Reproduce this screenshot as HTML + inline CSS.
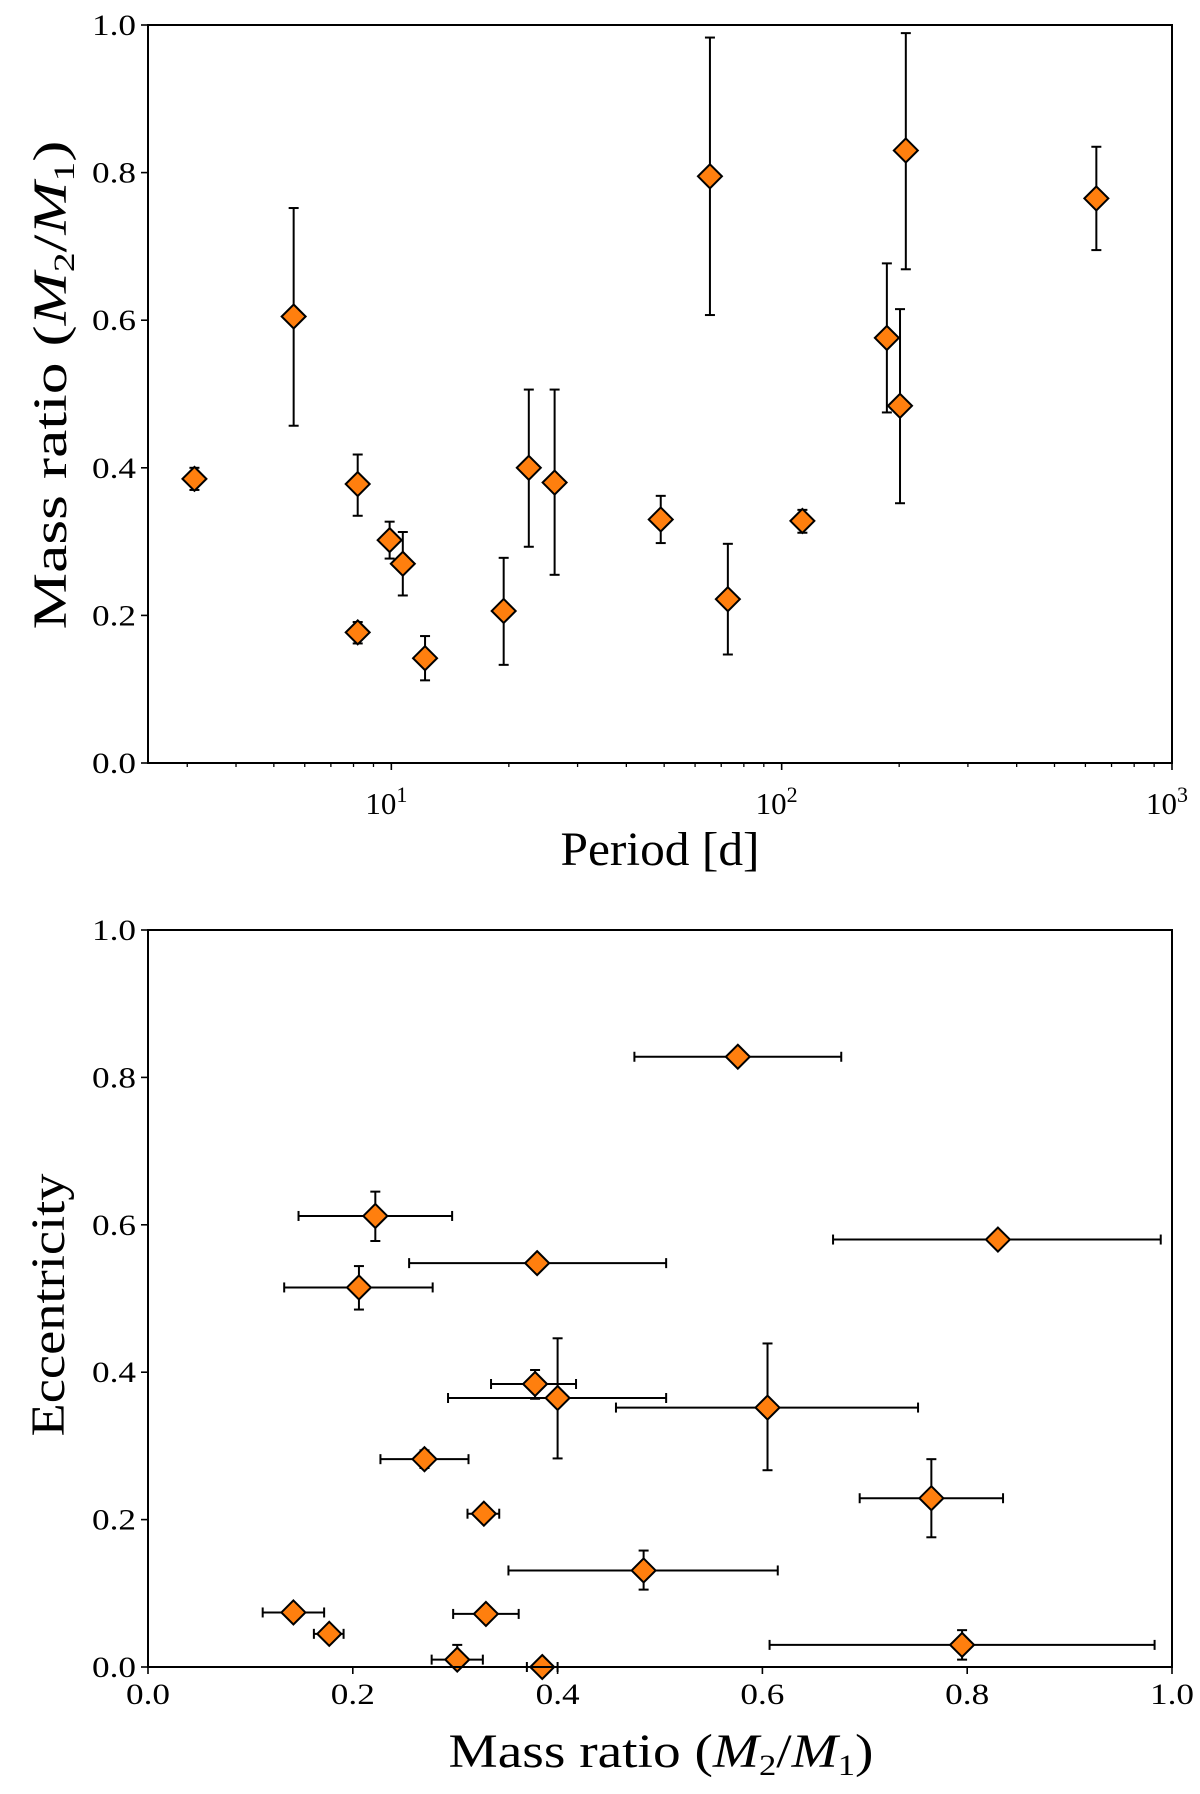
<!DOCTYPE html>
<html><head><meta charset="utf-8"><style>
body{margin:0;background:#fff}
svg{display:block}
text{font-family:"Liberation Serif",serif;fill:#000}
</style></head><body>
<svg id="fig" width="1200" height="1794" viewBox="0 0 1200 1794" xmlns="http://www.w3.org/2000/svg">
<g id="top"></g>
<g id="bot"></g>
</svg>
<script>
// Top panel data
const periods = [3.13,5.62,8.2,8.2,9.9,10.7,12.2,19.4,22.5,26.2,49.0,65.5,72.8,113,186,201,208,640];
const qTop = [0.385,0.605,0.378,0.177,0.302,0.27,0.142,0.206,0.40,0.38,0.33,0.795,0.222,0.328,0.576,0.484,0.83,0.765];
const qTopLo = [0.37,0.457,0.335,0.162,0.277,0.227,0.112,0.133,0.293,0.255,0.298,0.607,0.147,0.312,0.475,0.352,0.669,0.695];
const qTopHi = [0.40,0.752,0.418,0.191,0.327,0.313,0.172,0.278,0.506,0.506,0.362,0.983,0.297,0.343,0.677,0.615,0.989,0.835];
// Bottom panel data
const qBot = [0.576,0.222,0.83,0.38,0.206,0.378,0.40,0.605,0.27,0.765,0.328,0.484,0.142,0.33,0.177,0.795,0.302,0.385];
const qBotLo = [0.475,0.147,0.669,0.255,0.133,0.335,0.293,0.457,0.227,0.695,0.312,0.352,0.112,0.298,0.162,0.607,0.277,0.37];
const qBotHi = [0.677,0.297,0.989,0.506,0.278,0.418,0.506,0.752,0.313,0.835,0.343,0.615,0.172,0.362,0.191,0.983,0.327,0.40];
const ecc = [0.828,0.612,0.58,0.548,0.515,0.384,0.365,0.352,0.282,0.229,0.208,0.131,0.074,0.072,0.045,0.03,0.01,0.0];
const eccLo = [0.828,0.578,0.58,0.548,0.485,0.364,0.283,0.267,0.27,0.176,0.208,0.105,0.074,0.072,0.045,0.01,0.0,0.0];
const eccHi = [0.828,0.645,0.58,0.548,0.544,0.403,0.446,0.439,0.294,0.282,0.208,0.158,0.074,0.072,0.045,0.05,0.03,0.0];
const linTicks = ["0.0","0.2","0.4","0.6","0.8","1.0"];
const logTickExp = ["1","2","3"];

const NS="http://www.w3.org/2000/svg";
function mk(parent,tag,attrs){const e=document.createElementNS(NS,tag);for(const k in attrs)e.setAttribute(k,attrs[k]);parent.appendChild(e);return e;}
const L=148,R=1172;
const logMin=Math.log10(2.38), logMax=3;
const xLog=v=>L+(Math.log10(v)-logMin)/(logMax-logMin)*(R-L);
const xLin=v=>L+v*(R-L);
function yMaker(top,bot){return v=>bot-v*(bot-top);}
const MQ='Mass ratio (<tspan font-style="italic">M</tspan><tspan font-size="30" dy="8">2</tspan><tspan dy="-8">/</tspan><tspan font-style="italic">M</tspan><tspan font-size="30" dy="8">1</tspan><tspan dy="-8">)</tspan>';

function errV(g,x,y1,y2){
  const l=mk(g,'line',{x1:x,x2:x,y1:y1,y2:y2,stroke:'#000','stroke-width':2});
  
  
  for(const y of [y1,y2]){const c=mk(g,'line',{x1:x-5,x2:x+5,y1:y,y2:y,stroke:'#000','stroke-width':2});
    
    }
}
function errH(g,x1,x2,y){
  const l=mk(g,'line',{x1:x1,x2:x2,y1:y,y2:y,stroke:'#000','stroke-width':2});
  
  
  for(const x of [x1,x2]){const c=mk(g,'line',{x1:x,x2:x,y1:y-5,y2:y+5,stroke:'#000','stroke-width':2});
    
    }
}
function diamond(g,x,y){
  const p=mk(g,'polygon',{points:`${x},${y-12} ${x+12},${y} ${x},${y+12} ${x-12},${y}`,fill:'#ff7f0e',stroke:'#000','stroke-width':2});
  
  
}
function frame(g,top,bot){
  const r=mk(g,'rect',{x:L,y:top,width:R-L,height:bot-top,fill:'none',stroke:'#000','stroke-width':2});
  
  
}
function yTicks(g,y){
  linTicks.forEach(t=>{const yy=y(parseFloat(t));
    mk(g,'line',{x1:L-7,x2:L,y1:yy,y2:yy,stroke:'#000','stroke-width':1.6});
    const tx=mk(g,'text',{x:L-12,y:yy+10,'font-size':30,'text-anchor':'end',textLength:44,lengthAdjust:'spacingAndGlyphs'});tx.textContent=t;
    
    });
}

// TOP
(function(){
  const g=document.getElementById('top');const top=25,bot=763;const y=yMaker(top,bot);
  yTicks(g,y);
  for(let d=0;d<3;d++)for(let m=2;m<=9;m++){const v=m*Math.pow(10,d);if(v<2.38)continue;const xx=xLog(v);
    mk(g,'line',{x1:xx,x2:xx,y1:bot,y2:bot+4,stroke:'#000','stroke-width':1.3});}
  logTickExp.forEach(e=>{const xx=xLog(Math.pow(10,+e));
    mk(g,'line',{x1:xx,x2:xx,y1:bot,y2:bot+7,stroke:'#000','stroke-width':1.6});
    const t=mk(g,'text',{x:xx-5,y:bot+51,'font-size':31,'text-anchor':'middle'});
    t.innerHTML='10<tspan dy="-12" font-size="22">'+e+'</tspan>';
    
    });
  periods.forEach((p,i)=>errV(g,xLog(p),y(qTopLo[i]),y(qTopHi[i])));
  periods.forEach((p,i)=>diamond(g,xLog(p),y(qTop[i])));
  frame(g,top,bot);
  const xl=mk(g,'text',{x:660,y:865,'font-size':48,'text-anchor':'middle',textLength:199,lengthAdjust:'spacingAndGlyphs'});xl.textContent='Period [d]';
  
  
  const yl=mk(g,'text',{x:0,y:0,'font-size':48,'text-anchor':'middle',textLength:489,lengthAdjust:'spacingAndGlyphs',transform:'translate(66,385) rotate(-90)'});
  yl.innerHTML=MQ;
  
  
})();

// BOTTOM
(function(){
  const g=document.getElementById('bot');const top=930,bot=1667;const y=yMaker(top,bot);
  yTicks(g,y);
  linTicks.forEach(t=>{const xx=xLin(parseFloat(t));
    mk(g,'line',{x1:xx,x2:xx,y1:bot,y2:bot+7,stroke:'#000','stroke-width':1.6});
    const tx=mk(g,'text',{x:xx,y:bot+37,'font-size':30,'text-anchor':'middle',textLength:44,lengthAdjust:'spacingAndGlyphs'});tx.textContent=t;
    
    });
  qBot.forEach((q,i)=>{
    errH(g,xLin(qBotLo[i]),xLin(qBotHi[i]),y(ecc[i]));
    if(eccHi[i]>eccLo[i]) errV(g,xLin(q),y(eccLo[i]),y(eccHi[i]));
  });
  qBot.forEach((q,i)=>diamond(g,xLin(q),y(ecc[i])));
  frame(g,top,bot);
  const xl=mk(g,'text',{x:661,y:1767,'font-size':48,'text-anchor':'middle',textLength:425,lengthAdjust:'spacingAndGlyphs'});
  xl.innerHTML=MQ;
  
  
  const yl=mk(g,'text',{x:0,y:0,'font-size':48,'text-anchor':'middle',textLength:263,lengthAdjust:'spacingAndGlyphs',transform:'translate(64,1305) rotate(-90)'});
  yl.textContent='Eccentricity';
  
  
})();
</script>
</body></html>
